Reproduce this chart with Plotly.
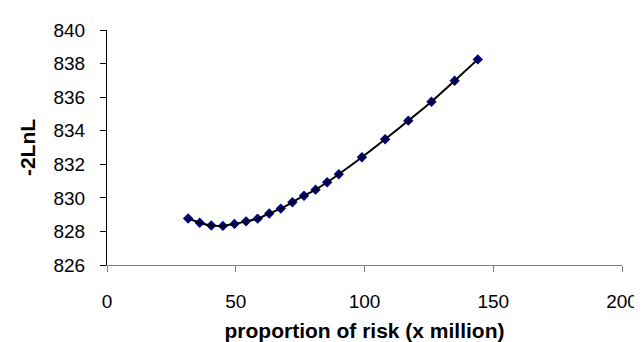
import plotly.graph_objects as go

x_risk = [31.5, 36, 40.5, 45, 49.5, 54, 58.5, 63, 67.5, 72, 76.5, 81, 85.5, 90,
          99, 108, 117, 126, 135, 144]
neg2lnl = [828.77, 828.52, 828.35, 828.33, 828.45, 828.6, 828.76, 829.07, 829.36,
           829.74, 830.13, 830.49, 830.93, 831.41, 832.42, 833.49, 834.6, 835.73,
           836.98, 838.25]

x_ticks = [0, 50, 100, 150, 200]
y_ticks = [826, 828, 830, 832, 834, 836, 838, 840]

font_family = "Arial, Liberation Sans, sans-serif"

fig = go.Figure()
fig.add_trace(go.Scatter(
    x=x_risk, y=neg2lnl, mode="markers",
    marker=dict(symbol="diamond", size=8, color="#000080",
                line=dict(width=0)),
    showlegend=False, hoverinfo="skip"))
fig.add_trace(go.Scatter(
    x=x_risk, y=neg2lnl, mode="lines",
    line=dict(color="black", width=2, shape="spline", smoothing=0.6),
    showlegend=False))

fig.update_layout(
    width=642, height=342,
    margin=dict(l=99, r=21, t=15, b=84),
    paper_bgcolor="white", plot_bgcolor="white",
    font=dict(family=font_family, size=19, color="black"),
    xaxis=dict(
        range=[0, 200], tickvals=x_ticks, ticktext=[str(v) for v in x_ticks],
        showgrid=False, zeroline=False, showline=True, linecolor="#808080",
        linewidth=1, ticks="outside", ticklen=6, tickcolor="#808080",
        ticklabelstandoff=13,
        title=dict(text="<b>proportion of risk (x million)</b>",
                   font=dict(size=21), standoff=12)),
    yaxis=dict(
        range=[826, 840], tickvals=y_ticks, ticktext=[str(v) for v in y_ticks],
        showgrid=False, zeroline=False, showline=True, linecolor="black",
        linewidth=1, ticks="outside", ticklen=6, tickcolor="black",
        ticklabelstandoff=11,
        title=dict(text="<b>-2LnL</b>", font=dict(size=21), standoff=12)),
)

fig.write_html("out.html")
